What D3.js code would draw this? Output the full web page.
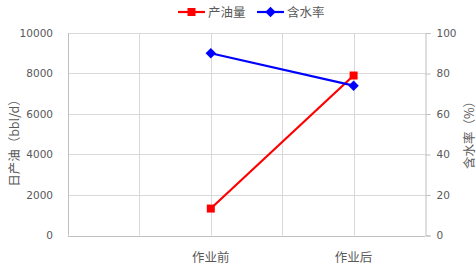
<!DOCTYPE html>
<html>
<head>
<meta charset="utf-8">
<script src="https://cdn.jsdelivr.net/npm/d3@7"></script>
<style>
  body { margin: 0; background: #fff; }
  text { font-family: "Noto Sans CJK SC", "DejaVu Sans", sans-serif; fill: #595959; }
</style>
</head>
<body>
<div id="chart"></div>
<script>
const categories = ["作业前", "作业后"];
const catPos = [2, 4];          // position on a 0..5 category grid
const oilValues = [1330, 7900];  // 产油量 bbl/d
const waterValues = [90, 74];    // 含水率 %
const leftTicks = [0, 2000, 4000, 6000, 8000, 10000];
const rightTicks = [0, 20, 40, 60, 80, 100];

const width = 476, height = 267;
const margin = { top: 33, right: 51, bottom: 31.5, left: 68 };

const svg = d3.select("#chart").append("svg")
    .attr("width", width)
    .attr("height", height);

const x = d3.scaleLinear().domain([0, 5]).range([margin.left, width - margin.right]);
const yL = d3.scaleLinear().domain([0, 10000]).range([height - margin.bottom, margin.top]);
const yR = d3.scaleLinear().domain([0, 100]).range([height - margin.bottom, margin.top]);

// Grid lines
svg.append("g").selectAll("line")
    .data(leftTicks.slice(1))
    .enter().append("line")
    .attr("x1", x(0)).attr("x2", x(5))
    .attr("y1", d => Math.round(yL(d)) + 0.5).attr("y2", d => Math.round(yL(d)) + 0.5)
    .attr("stroke", "#d9d9d9");

svg.append("g").selectAll("line")
    .data(d3.range(1, 5))
    .enter().append("line")
    .attr("x1", d => Math.round(x(d)) + 0.5).attr("x2", d => Math.round(x(d)) + 0.5)
    .attr("y1", yL(10000)).attr("y2", yL(0))
    .attr("stroke", "#d9d9d9");

// Left axis line
svg.append("line")
    .attr("x1", x(0) + 0.5).attr("x2", x(0) + 0.5)
    .attr("y1", yL(10000)).attr("y2", yL(0))
    .attr("stroke", "#bfbfbf");

// Right axis with outside ticks
const rightAxis = d3.axisRight(yR).tickValues(rightTicks).tickSize(5).tickPadding(6);
const gR = svg.append("g")
    .attr("transform", `translate(${Math.round(x(5)) + 0.5},0)`)
    .call(rightAxis);
gR.select(".domain").attr("stroke", "#bfbfbf");
gR.selectAll(".tick line").attr("stroke", "#bfbfbf");
gR.selectAll(".tick text").attr("fill", "#595959")
    .style("font-family", "'DejaVu Sans', sans-serif").style("font-size", "10.5px");

// Left tick labels
const leftAxis = d3.axisLeft(yL).tickValues(leftTicks).tickSize(0).tickPadding(15)
    .tickFormat(d3.format("d"));
const gL = svg.append("g")
    .attr("transform", `translate(${x(0)},0)`)
    .call(leftAxis);
gL.select(".domain").remove();
gL.selectAll(".tick text").attr("fill", "#595959")
    .style("font-family", "'DejaVu Sans', sans-serif").style("font-size", "10.5px");

// Bottom axis line
svg.append("line")
    .attr("x1", x(0)).attr("x2", x(5))
    .attr("y1", Math.round(yL(0)) + 0.5).attr("y2", Math.round(yL(0)) + 0.5)
    .attr("stroke", "#bfbfbf");

// Category labels
svg.append("g").selectAll("text")
    .data(categories)
    .enter().append("text")
    .attr("x", (d, i) => x(catPos[i]))
    .attr("y", yL(0) + 26)
    .attr("text-anchor", "middle")
    .style("font-size", "12.5px")
    .text(d => d);

// Axis titles
svg.append("text")
    .attr("transform", `translate(13,140) rotate(-90)`)
    .attr("text-anchor", "middle")
    .attr("dominant-baseline", "central")
    .style("font-size", "12.5px")
    .text("日产油（bbl/d）");

svg.append("text")
    .attr("transform", `translate(468,132) rotate(-90)`)
    .attr("text-anchor", "middle")
    .attr("dominant-baseline", "central")
    .style("font-size", "12.5px")
    .text("含水率（%）");

// Series
const oilData = categories.map((c, i) => ({ x: catPos[i], y: oilValues[i] }));
const waterData = categories.map((c, i) => ({ x: catPos[i], y: waterValues[i] }));

svg.append("path")
    .datum(oilData)
    .attr("fill", "none")
    .attr("stroke", "#ff0000")
    .attr("stroke-width", 2.2)
    .attr("d", d3.line().x(d => x(d.x)).y(d => yL(d.y)));

svg.append("path")
    .datum(waterData)
    .attr("fill", "none")
    .attr("stroke", "#0000ff")
    .attr("stroke-width", 2.2)
    .attr("d", d3.line().x(d => x(d.x)).y(d => yR(d.y)));

const square = d3.symbol().type(d3.symbolSquare).size(64)();
const diamond = d3.symbol().type(d3.symbolDiamond2).size(70)();

svg.selectAll(".oilpt")
    .data(oilData)
    .enter().append("path")
    .attr("transform", d => `translate(${x(d.x)},${yL(d.y)})`)
    .attr("d", square)
    .attr("fill", "#ff0000");

svg.selectAll(".waterpt")
    .data(waterData)
    .enter().append("path")
    .attr("transform", d => `translate(${x(d.x)},${yR(d.y)})`)
    .attr("d", diamond)
    .attr("fill", "#0000ff");

// Legend
const legend = [
    { name: "产油量", color: "#ff0000", sym: square, x: 178 },
    { name: "含水率", color: "#0000ff", sym: diamond, x: 257 }
];
const lg = svg.append("g").selectAll("g")
    .data(legend)
    .enter().append("g")
    .attr("transform", d => `translate(${d.x},12)`);
lg.append("line")
    .attr("x1", 0).attr("x2", 27)
    .attr("stroke", d => d.color).attr("stroke-width", 2.2);
lg.append("path")
    .attr("transform", "translate(13.5,0)")
    .attr("d", d => d.sym)
    .attr("fill", d => d.color);
lg.append("text")
    .attr("x", 30).attr("y", 4.5)
    .style("font-size", "12.5px")
    .text(d => d.name);
</script>
</body>
</html>
